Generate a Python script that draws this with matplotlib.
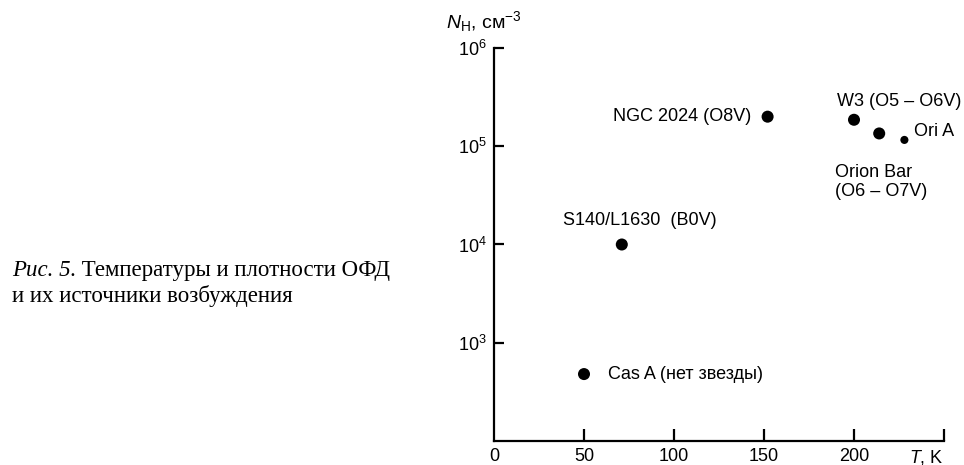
import matplotlib
matplotlib.use("Agg")
import matplotlib.pyplot as plt
from matplotlib.ticker import FixedLocator, NullLocator

plt.rcParams['font.family'] = ['Liberation Sans', 'DejaVu Sans']
plt.rcParams['mathtext.fontset'] = 'custom'
plt.rcParams['mathtext.rm'] = 'Liberation Sans'
plt.rcParams['mathtext.it'] = 'Liberation Sans:italic'

# ---- data ----
names = ['Cas A (нет звезды)', 'S140/L1630  (B0V)', 'NGC 2024 (O8V)',
         'W3 (O5 – O6V)', 'Orion Bar\n(O6 – O7V)', 'Ori A']
temps = [50, 71, 152, 200, 214, 228]
dens = [480, 1.0e4, 2.0e5, 1.86e5, 1.35e5, 1.16e5]
x_ticks = [0, 50, 100, 150, 200, 250]
x_labels = ['0', '50', '100', '150', '200', '$T$, K']
y_ticks = [1e3, 1e4, 1e5, 1e6]
y_labels = ['$10^{3}$', '$10^{4}$', '$10^{5}$', '$10^{6}$']

# label placement (offsets in points) and marker sizes
offsets = [(17, 0), (68, 17), (-12, 0), (-12, 13), (-32, -35), (7, 6)]
aligns = ['left', 'right', 'right', 'left', 'left', 'left']
msizes = [75, 75, 75, 75, 75, 34]

W, H = 964, 465
fig = plt.figure(figsize=(W / 100, H / 100), dpi=100)
ax = fig.add_axes([494 / W, 1 - 441 / H, (944 - 494) / W, (441 - 48) / H])

ax.set_yscale('log')
ax.set_xlim(0, 250)
ax.set_ylim(1e2, 1e6)

ax.scatter(temps, dens, s=msizes, color='black', zorder=3, linewidths=0)
FS = 13
for t, n, name, off, ha in zip(temps, dens, names, offsets, aligns):
    ax.annotate(name, (t, n), xytext=off, textcoords='offset points',
                ha=ha, va='center', fontsize=FS, linespacing=1.1)

for s in ['top', 'right']:
    ax.spines[s].set_visible(False)
for s in ['left', 'bottom']:
    ax.spines[s].set_linewidth(1.6)

ax.xaxis.set_major_locator(FixedLocator(x_ticks))
ax.set_xticklabels(x_labels)
ax.xaxis.set_minor_locator(NullLocator())
ax.yaxis.set_major_locator(FixedLocator(y_ticks))
ax.set_yticklabels(y_labels)
ax.yaxis.set_minor_locator(NullLocator())
ax.tick_params(axis='x', direction='in', length=9, width=1.6, pad=5, labelsize=FS)
ax.tick_params(axis='y', direction='in', length=7, width=1.6, pad=5, labelsize=FS)
ax.xaxis.get_major_ticks()[0].tick1line.set_visible(False)
ax.get_xticklabels()[-1].set_horizontalalignment('right')

fig.text(446 / W, 1 - 22 / H, '$N_{\\mathrm{H}}$, см$^{-3}$', ha='left',
         va='center', fontsize=14)

# caption
cap_fs = 16.5
t1 = fig.text(12 / W, 1 - 270 / H, 'Рис. 5.', family='Liberation Serif',
              style='italic', fontsize=cap_fs, va='center', ha='left')
fig.canvas.draw()
bb = t1.get_window_extent()
fig.text(bb.x1 / W, 1 - 270 / H, ' Температуры и плотности ОФД',
         family='Liberation Serif', fontsize=cap_fs, va='center', ha='left')
fig.text(12 / W, 1 - 296 / H, 'и их источники возбуждения',
         family='Liberation Serif', fontsize=cap_fs, va='center', ha='left')

fig.savefig('out.png', dpi=100)
